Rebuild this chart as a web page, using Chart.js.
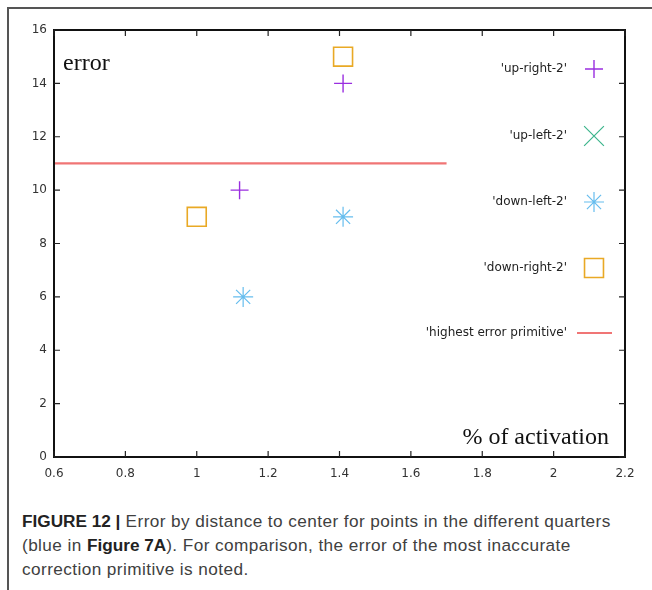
<!DOCTYPE html>
<html>
<head>
<meta charset="utf-8">
<script src="https://cdn.jsdelivr.net/npm/chart.js@4"></script>
<style>
  html, body { margin: 0; padding: 0; background: #fff; }
  body { width: 652px; height: 590px; position: relative; overflow: hidden; }
  #frame { position: absolute; left: 7px; top: 7px; width: 660px; height: 600px;
           border-top: 2px solid #555; border-left: 2px solid #555; }
  #chart { position: absolute; left: 0; top: 0; }
  #caption { position: absolute; left: 22px; top: 509px; width: 630px; white-space: nowrap;
             font-family: "Liberation Sans", Arial, sans-serif; font-size: 17.2px;
             line-height: 24px; color: #404040; letter-spacing: 0.42px; }
  #caption b { color: #222; letter-spacing: 0; }
</style>
</head>
<body>
<div id="frame"></div>
<canvas id="chart" width="652" height="500"></canvas>
<div id="caption"><b>FIGURE 12 |</b> Error by distance to center for points in the different quarters<br>(blue in <b>Figure 7A</b>). For comparison, the error of the most inaccurate<br>correction primitive is noted.</div>
<script>
// ---- data ----
const xTicks = [0.6, 0.8, 1, 1.2, 1.4, 1.6, 1.8, 2, 2.2];
const yTicks = [0, 2, 4, 6, 8, 10, 12, 14, 16];
const seriesNames = ["'up-right-2'", "'up-left-2'", "'down-left-2'", "'down-right-2'", "'highest error primitive'"];
const upRightX = [1.12, 1.41];
const upRightY = [10, 14];
const upLeftX = [];
const upLeftY = [];
const downLeftX = [1.13, 1.41];
const downLeftY = [6, 9];
const downRightX = [1.0, 1.41];
const downRightY = [9, 15];
const highestErrX = [0.6, 1.7];
const highestErrY = [11, 11];
const yAxisTitle = 'error';
const xAxisTitle = '% of activation';

const pts = (xs, ys) => xs.map((x, i) => ({ x: x, y: ys[i] }));

const datasets = [
  { label: seriesNames[0], data: pts(upRightX, upRightY), pointStyle: 'cross', pointRadius: 9,
    borderColor: '#9a2ee0', pointBorderWidth: 1.4, showLine: false },
  { label: seriesNames[1], data: pts(upLeftX, upLeftY), pointStyle: 'crossRot', pointRadius: 14,
    borderColor: '#3cb58c', pointBorderWidth: 1.2, showLine: false },
  { label: seriesNames[2], data: pts(downLeftX, downLeftY), pointStyle: 'star', pointRadius: 10,
    borderColor: '#66bdee', pointBorderWidth: 1.2, showLine: false },
  { label: seriesNames[3], data: pts(downRightX, downRightY), pointStyle: 'rect', pointRadius: 13.4,
    borderColor: '#e9a925', backgroundColor: 'rgba(0,0,0,0)', pointBorderWidth: 1.6, showLine: false },
  { label: seriesNames[4], data: pts(highestErrX, highestErrY), pointRadius: 0, showLine: true,
    borderColor: '#f07575', borderWidth: 2.2 }
];
datasets.forEach(d => { if (d.pointStyle) { d.pointBackgroundColor = 'rgba(0,0,0,0)'; d.pointBorderColor = d.borderColor; } });

const decor = {
  id: 'decor',
  afterDatasetsDraw(chart) {
    const { ctx, chartArea: a, scales } = chart;
    ctx.save();
    // frame
    ctx.strokeStyle = '#111';
    ctx.lineWidth = 2;
    ctx.strokeRect(a.left, a.top, a.right - a.left, a.bottom - a.top);
    // inward ticks (mirror)
    ctx.lineWidth = 1.2;
    ctx.strokeStyle = '#222';
    const tl = 6;
    xTicks.forEach(v => {
      const x = scales.x.getPixelForValue(v);
      ctx.beginPath();
      ctx.moveTo(x, a.bottom); ctx.lineTo(x, a.bottom - tl);
      ctx.moveTo(x, a.top); ctx.lineTo(x, a.top + tl);
      ctx.stroke();
    });
    yTicks.forEach(v => {
      const y = scales.y.getPixelForValue(v);
      ctx.beginPath();
      ctx.moveTo(a.left, y); ctx.lineTo(a.left + tl, y);
      ctx.moveTo(a.right, y); ctx.lineTo(a.right - tl, y);
      ctx.stroke();
    });
    // axis titles (inside plot, serif)
    ctx.fillStyle = '#111';
    ctx.font = '24px "Liberation Serif", "Times New Roman", serif';
    ctx.textBaseline = 'alphabetic';
    ctx.textAlign = 'left';
    ctx.fillText(yAxisTitle, a.left + 9, a.top + 40);
    ctx.textAlign = 'right';
    ctx.fillText(xAxisTitle, a.right - 16, a.bottom - 13);
    // legend
    const rowY = [69, 136, 202, 268, 333];
    const textRight = a.right - 58;
    const symX = a.right - 31;
    ctx.font = '12px "DejaVu Sans", sans-serif';
    ctx.textBaseline = 'middle';
    chart.data.datasets.forEach((d, i) => {
      const y = rowY[i];
      ctx.fillStyle = '#222';
      ctx.textAlign = 'right';
      ctx.fillText(d.label, textRight, y);
      if (d.pointStyle) {
        ctx.strokeStyle = d.borderColor;
        ctx.fillStyle = 'rgba(0,0,0,0)';
        ctx.lineWidth = d.pointBorderWidth;
        Chart.helpers.drawPoint(ctx, {
          pointStyle: d.pointStyle, radius: d.pointRadius, rotation: 0, borderWidth: d.pointBorderWidth
        }, symX, y);
      } else {
        ctx.strokeStyle = d.borderColor;
        ctx.lineWidth = d.borderWidth;
        ctx.beginPath();
        ctx.moveTo(textRight + 10, y); ctx.lineTo(textRight + 45, y);
        ctx.stroke();
      }
    });
    ctx.restore();
  }
};

const fmt = v => String(Math.round(v * 10) / 10);

new Chart(document.getElementById('chart'), {
  type: 'scatter',
  data: { datasets: datasets },
  options: {
    responsive: false,
    animation: false,
    layout: { padding: { top: 30, right: 27, left: 0, bottom: 0 } },
    plugins: { legend: { display: false }, tooltip: { enabled: false } },
    scales: {
      x: {
        type: 'linear', min: 0.6, max: 2.2,
        afterBuildTicks: s => { s.ticks = xTicks.map(v => ({ value: v })); },
        afterFit: s => { s.height = 43; },
        grid: { display: false, drawTicks: false },
        border: { display: false },
        ticks: { padding: 10, color: '#333', font: { family: '"DejaVu Sans", sans-serif', size: 12 },
                 callback: v => fmt(v), maxRotation: 0, autoSkip: false }
      },
      y: {
        type: 'linear', min: 0, max: 16,
        afterBuildTicks: s => { s.ticks = yTicks.map(v => ({ value: v })); },
        afterFit: s => { s.width = 54; },
        grid: { display: false, drawTicks: false },
        border: { display: false },
        ticks: { padding: 7, color: '#333', font: { family: '"DejaVu Sans", sans-serif', size: 12 },
                 callback: v => fmt(v), autoSkip: false }
      }
    }
  },
  plugins: [decor]
});
</script>
</body>
</html>
